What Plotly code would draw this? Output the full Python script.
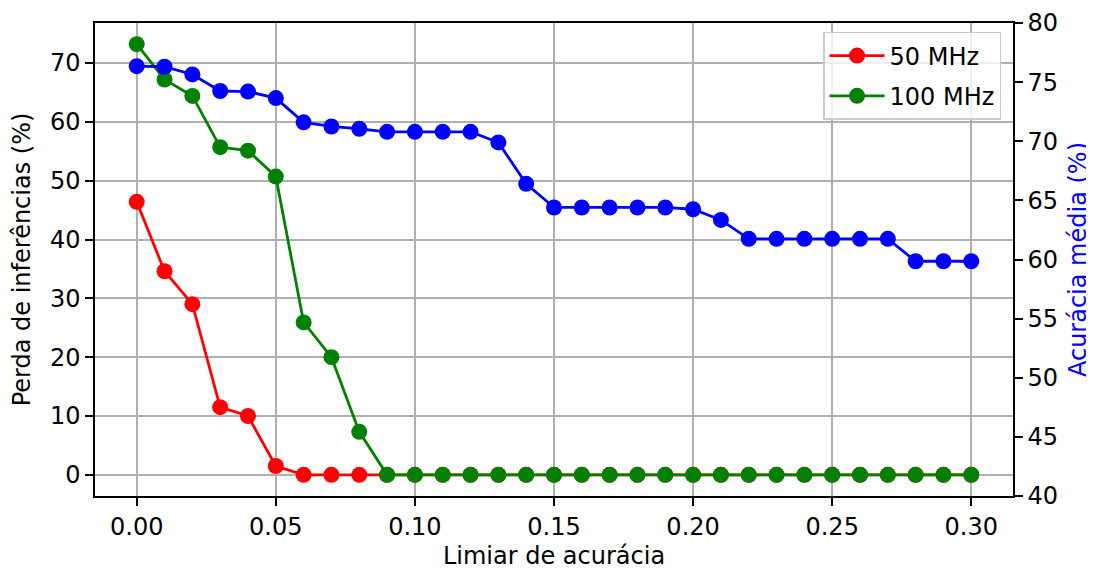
import plotly.graph_objects as go

limiar = [round(i * 0.01, 2) for i in range(31)]
perda_50 = [46.4, 34.6, 29.0, 11.5, 10.0, 1.5, 0, 0, 0, 0, 0, 0, 0, 0, 0, 0,
            0, 0, 0, 0, 0, 0, 0, 0, 0, 0, 0, 0, 0, 0, 0]
perda_100 = [73.2, 67.2, 64.4, 55.7, 55.1, 50.7, 25.9, 20.0, 7.3, 0, 0, 0, 0, 0, 0, 0,
             0, 0, 0, 0, 0, 0, 0, 0, 0, 0, 0, 0, 0, 0, 0]
acuracia = [76.35, 76.3, 75.65, 74.25, 74.2, 73.65, 71.6, 71.25, 71.05, 70.8, 70.8, 70.8,
            70.8, 69.9, 66.4, 64.4, 64.4, 64.4, 64.4, 64.4, 64.25, 63.35, 61.75, 61.75,
            61.75, 61.75, 61.75, 61.75, 59.85, 59.85, 59.85]

x_ticks = [0.0, 0.05, 0.10, 0.15, 0.20, 0.25, 0.30]
y1_ticks = [0, 10, 20, 30, 40, 50, 60, 70]
y2_ticks = [40, 45, 50, 55, 60, 65, 70, 75, 80]

FONT = "DejaVu Sans"
FS = 24

fig = go.Figure()
fig.add_trace(go.Scatter(x=limiar, y=perda_50, mode="lines+markers", name="50 MHz",
                         legendgroup="a",
                         line=dict(color="red", width=2.8), marker=dict(size=16, color="red")))
fig.add_trace(go.Scatter(x=limiar, y=perda_100, mode="lines+markers", name="100 MHz",
                         legendgroup="b",
                         line=dict(color="green", width=2.8), marker=dict(size=16, color="green")))
fig.add_trace(go.Scatter(x=limiar, y=acuracia, mode="lines+markers", name="Acurácia",
                         yaxis="y2", showlegend=False,
                         line=dict(color="blue", width=2.8), marker=dict(size=16, color="blue")))

axis_common = dict(showline=True, linecolor="black", linewidth=1.5,
                   ticks="outside", ticklen=8, tickwidth=1.5, tickcolor="black",
                   tickfont=dict(family=FONT, size=FS, color="black"), zeroline=False,
                   automargin=False)

fig.update_layout(
    width=1086, height=562,
    margin=dict(l=87, r=81, t=15, b=74),
    paper_bgcolor="white", plot_bgcolor="white",
    font=dict(family=FONT, size=FS, color="black"),
    xaxis=dict(range=[-0.015, 0.315], tickvals=x_ticks,
               ticktext=[f"{v:.2f}" for v in x_ticks], mirror=True,
               showgrid=True, gridcolor="#b0b0b0", gridwidth=1.5,
               title=dict(text="Limiar de acurácia", font=dict(family=FONT, size=FS), standoff=8),
               **axis_common),
    yaxis=dict(range=[-3.6, 76.8], tickvals=y1_ticks, mirror=True,
               showgrid=True, gridcolor="#b0b0b0", gridwidth=1.5,
               title=dict(text="Perda de inferências (%)", font=dict(family=FONT, size=FS), standoff=14),
               **axis_common),
    yaxis2=dict(range=[40, 80], tickvals=y2_ticks, overlaying="y", side="right",
                showgrid=False,
                title=dict(text="Acurácia média (%)", font=dict(family=FONT, size=FS, color="blue"), standoff=12),
                **axis_common),
    legend=dict(x=0.987, xanchor="right", y=0.981, yanchor="top",
                bgcolor="rgba(255,255,255,0.8)", bordercolor="#cccccc", borderwidth=1.5,
                itemwidth=55, tracegroupgap=6, font=dict(family=FONT, size=FS)),
)

fig.write_html("out.html")
